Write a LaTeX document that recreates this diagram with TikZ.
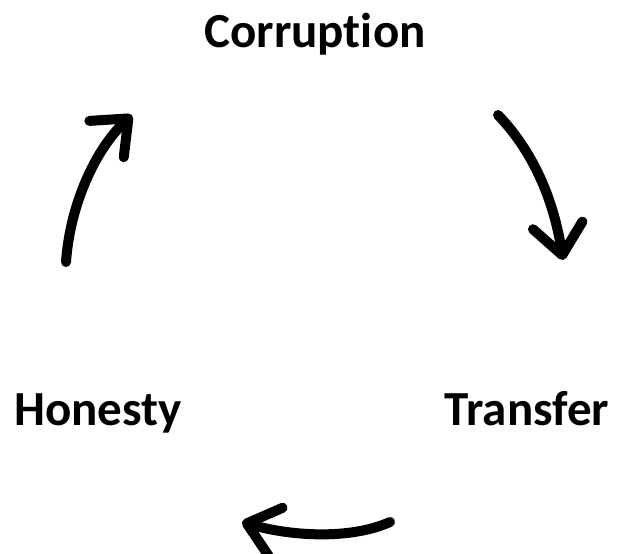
\documentclass[tikz,border=0pt]{standalone}
\usepackage{fontspec}
\setsansfont[Ligatures=NoCommon]{Carlito}
\usetikzlibrary{arrows.meta, positioning}
\tikzset{stage/.style = {font=\sffamily\bfseries\fontsize{49}{58}\selectfont, inner sep=0pt, anchor=base}}
\tikzset{cycle arrow/.style = {line width=10pt, line cap=round, line join=round}}
\newcommand{\cycArrow}{{Straight Barb[length=30pt, width=50pt, line cap=round, line join=round]}}

\begin{document}
\begin{tikzpicture}[x=1pt, y=-1pt]
	\useasboundingbox (0,0) rectangle (619,554);
	
	\node[stage] (corr)	at (315,47) {Corruption};
	\node[stage] (hon)	at (98,425) {Honesty};
	\node[stage] (trans)	at (527,425) {Transfer};
	
	\coordinate (a1) at (498,115);
	\coordinate (a2) at (563,260);
	\coordinate (b1) at (390,522);
	\coordinate (b2) at (242,522);
	\coordinate (c1) at (66,262);
	\coordinate (c2) at (132,115);
	
	\draw[cycle arrow, -\cycArrow]	(a1) .. controls (530,148) and (553,195) .. (a2);
	\draw[cycle arrow, -\cycArrow]	(b1) .. controls (350,540) and (290,536) .. (b2);
	\draw[cycle arrow, -\cycArrow]	(c1) .. controls (70,205) and (95,150) .. (c2);
\end{tikzpicture}
\end{document}
